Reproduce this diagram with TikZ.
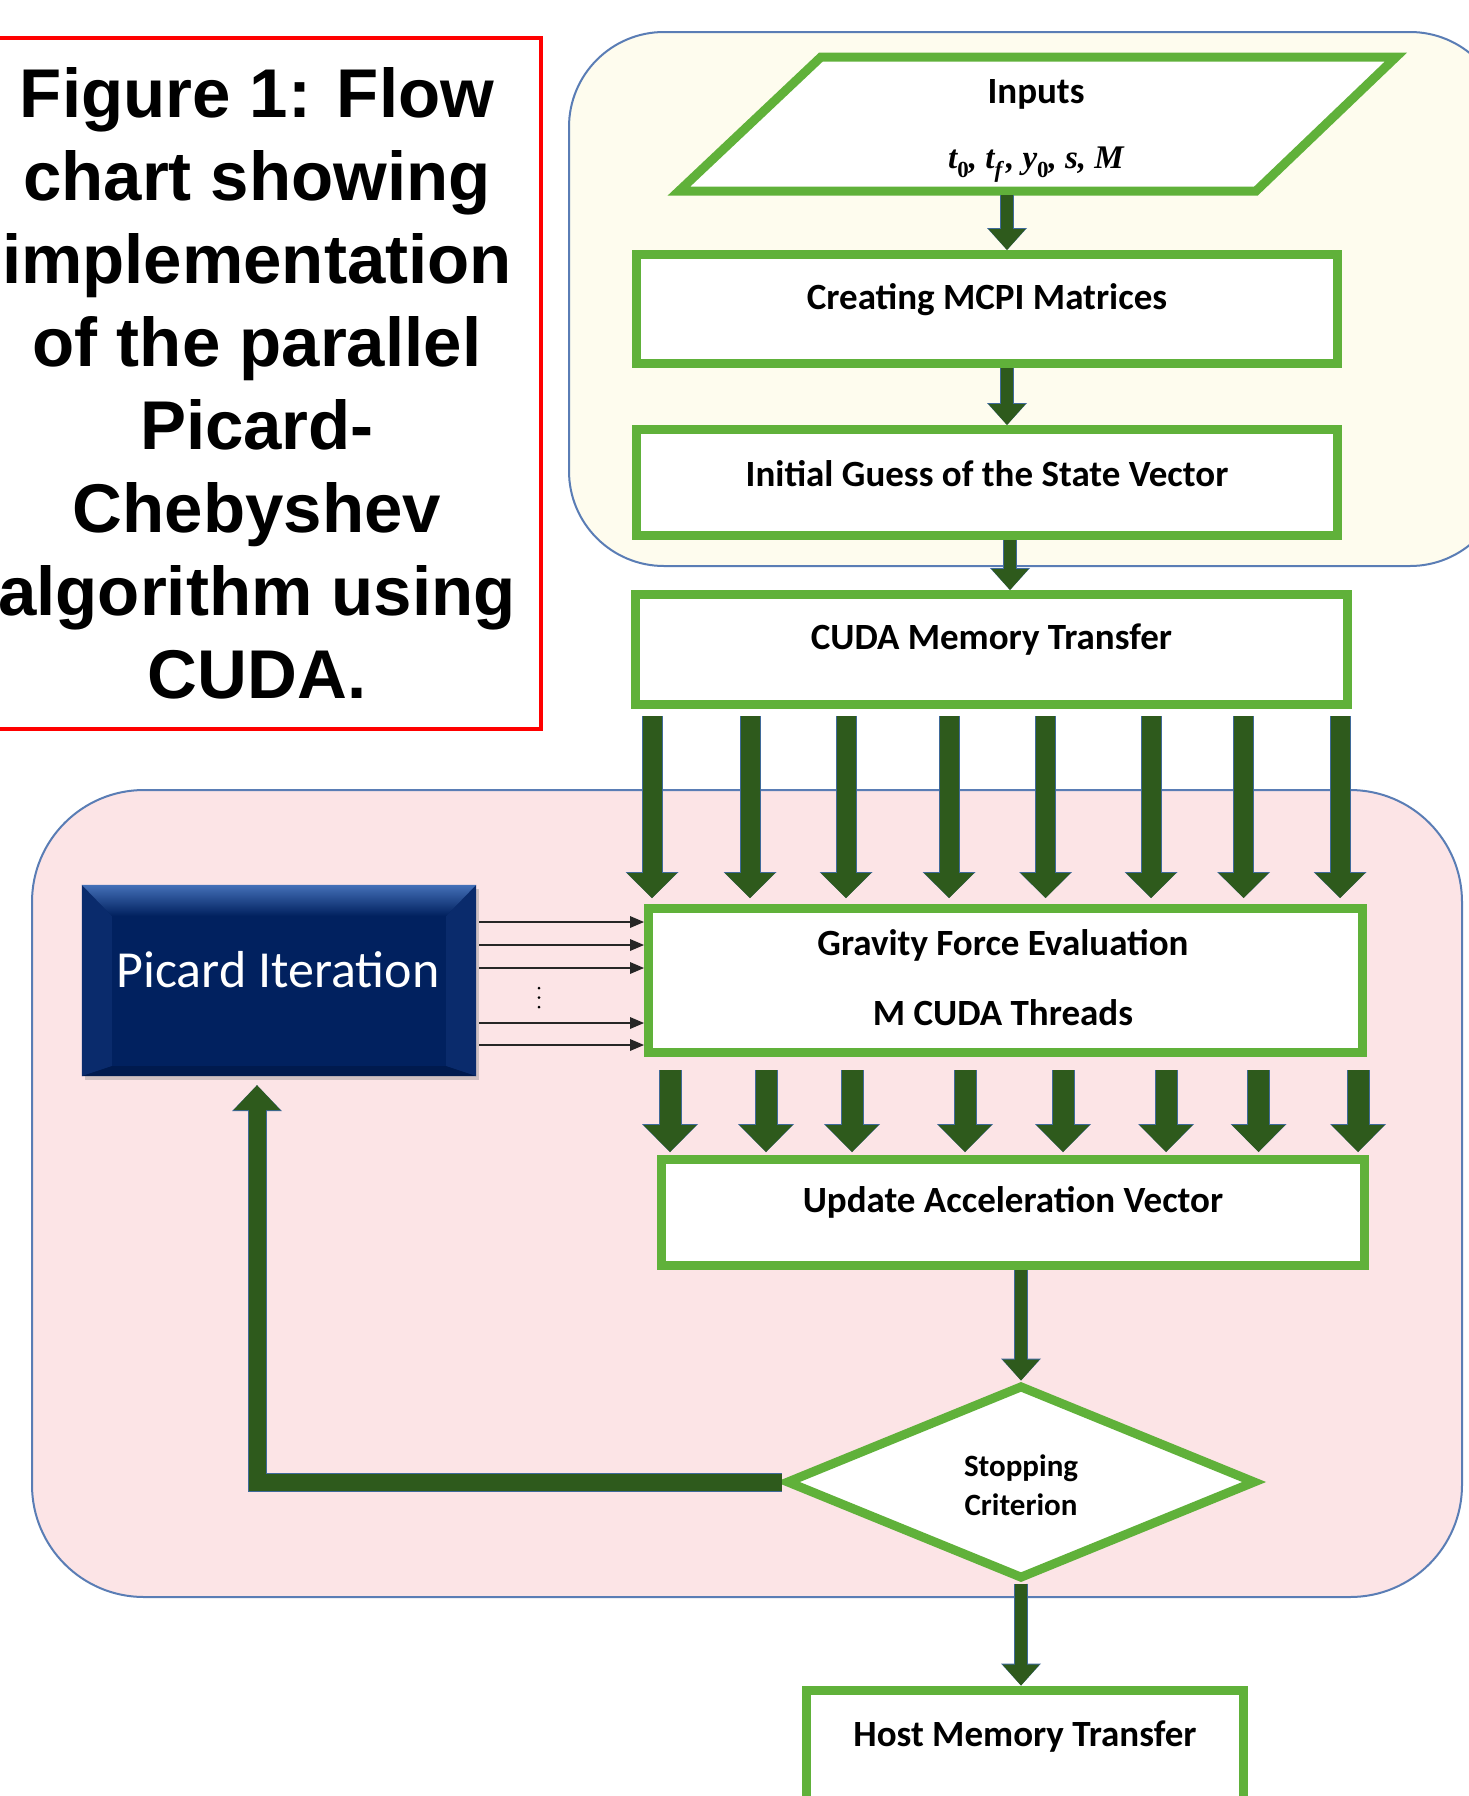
\documentclass[tikz,border=0pt]{standalone}
\usepackage{fontspec}
\setmainfont{Carlito}
\newfontfamily\capfont{Liberation Sans}
\newfontfamily\mathlike{Liberation Serif}
\usetikzlibrary{arrows.meta,shadows,calc,shapes.geometric}
\definecolor{grn}{HTML}{60B13A}
\definecolor{dgrn}{HTML}{2E5A1C}
\definecolor{pinkfill}{HTML}{FCE4E6}
\definecolor{yellfill}{HTML}{FEFCEE}
\definecolor{regline}{HTML}{5A7DB5}
\definecolor{arrline}{HTML}{3F6A9A}
\definecolor{navy}{HTML}{01215F}
\definecolor{navyL}{HTML}{0A2B6C}
\definecolor{navyD}{HTML}{001A4E}
\definecolor{bevel}{HTML}{4470B8}
\newcommand\subx[1]{\raisebox{-0.28em}{\fontsize{23}{26}\selectfont #1}}
\begin{document}
\begin{tikzpicture}[x=1pt,y=-1pt,line join=miter,
  gbox/.style={draw=grn,line width=9pt,fill=white,inner sep=0pt},
  lbl/.style={font=\fontsize{37}{44}\selectfont\bfseries,text=black,inner sep=0pt},
  lblsmall/.style={font=\fontsize{31}{39}\selectfont\bfseries,text=black,inner sep=0pt,align=center},
  captxt/.style={font=\capfont\bfseries\fontsize{69}{83}\selectfont,anchor=base,inner sep=0pt},
  region/.style={draw=regline,line width=2pt,rounded corners=#1},
  arrS/.style={draw=dgrn,line width=12pt,-{Triangle[width=37pt,length=21pt,line width=0pt]},
    preaction={draw=arrline,line width=14pt,-{Triangle[width=40pt,length=22pt,line width=0pt]}}},
  arrB/.style={draw=dgrn,line width=19pt,-{Triangle[width=50pt,length=25pt,line width=0pt]},
    preaction={draw=arrline,line width=21pt,-{Triangle[width=53pt,length=26pt,line width=0pt]}}},
  arrL/.style={draw=dgrn,line width=21pt,-{Triangle[width=53pt,length=27pt,line width=0pt]},
    preaction={draw=arrline,line width=23pt,-{Triangle[width=56pt,length=28pt,line width=0pt]}}},
  arrF/.style={draw=dgrn,line width=17pt,-{Triangle[width=47pt,length=25pt,line width=0pt]},
    preaction={draw=arrline,line width=19pt,-{Triangle[width=50pt,length=26pt,line width=0pt]}}},
  thinarr/.style={draw=black!85,line width=2pt,-{Triangle[width=12pt,length=14pt,line width=0pt]}}]
\useasboundingbox (0,0) rectangle (1468,1796);
\fill[white] (0,0) rectangle (1468,1796);

% background regions
\draw[region=95pt,fill=yellfill] (569,32) rectangle (1505,566);
\draw[region=112pt,fill=pinkfill] (32,790) rectangle (1462,1597);

% caption box
\draw[draw=red,line width=4.5pt] (-10,38) rectangle (541,729);
\node[captxt] (cap1) at (257,117) {Figure 1: Flow};
\node[captxt] (cap2) at (257,200) {chart showing};
\node[captxt] (cap3) at (257,283) {implementation};
\node[captxt] (cap4) at (257,366) {of the parallel};
\node[captxt] (cap5) at (257,449) {Picard-};
\node[captxt] (cap6) at (257,532) {Chebyshev};
\node[captxt] (cap7) at (257,615) {algorithm using};
\node[captxt] (cap8) at (257,698) {CUDA.};

% inputs parallelogram
\draw[draw=grn,line width=9pt,fill=white] (821,57) -- (1396,57) -- (1256,191) -- (679,191) -- cycle;
\node[lbl] (inpT) at (1036,94) {Inputs};
\node[inner sep=0pt,font=\mathlike\bfseries\itshape\fontsize{33}{40}\selectfont] (inpM) at (1036,165)
  {t\subx{\upshape 0}, t\subx{f\,}, y\subx{\upshape 0}, s, M};
\coordinate (inpb) at (1007,195);

% boxes
\node[gbox,minimum width=701pt,minimum height=109pt,
  label={[lbl,name=creatT,yshift=9pt]center:Creating MCPI Matrices}] (creat) at (987,309) {};
\node[gbox,minimum width=701pt,minimum height=106pt,
  label={[lbl,name=initT,yshift=9pt]center:Initial Guess of the State Vector}] (init) at (987,482.5) {};
\node[gbox,minimum width=712pt,minimum height=110pt,
  label={[lbl,name=cudaT,yshift=10pt]center:CUDA Memory Transfer}] (cuda) at (991.5,649.5) {};
\node[gbox,minimum width=714pt,minimum height=144pt] (grav) at (1005.5,980.5) {};
\node[lbl] (gravT1) at (1003,945) {Gravity Force Evaluation};
\node[lbl] (gravT2) at (1003,1013) {M CUDA Threads};
\node[gbox,minimum width=703pt,minimum height=106pt,
  label={[lbl,name=updT,yshift=10pt]center:Update Acceleration Vector}] (upd) at (1013,1212.5) {};
\node[diamond,draw=grn,line width=9pt,fill=white,inner sep=0pt,
  minimum width=470pt,minimum height=194pt,
  label={[lblsmall,name=stopT,yshift=-3pt]center:Stopping\\Criterion}] (stop) at (1021,1482) {};
\node[gbox,minimum width=437pt,minimum height=140pt,
  label={[lbl,name=hostT,yshift=23pt]center:Host Memory Transfer}] (host) at (1025,1760) {};

% Picard iteration block
\node[fill=navy,inner sep=0pt,minimum width=394pt,minimum height=191pt,
  drop shadow={shadow xshift=3pt,shadow yshift=-4pt,opacity=0.35}] (pic) at (279,980.5) {};
\fill[navyL] (pic.north west) -- ++(30,31) -- ($(pic.south west)+(30,-10)$) -- (pic.south west) -- cycle;
\fill[navyL] (pic.north east) -- ++(-30,31) -- ($(pic.south east)+(-30,-10)$) -- (pic.south east) -- cycle;
\fill[navyD] (pic.south west) -- ++(30,-10) -- ($(pic.south east)+(-30,-10)$) -- (pic.south east) -- cycle;
\shade[top color=bevel,bottom color=navy] (pic.north west) -- (pic.north east) -- ++(-30,31) -- ($(pic.north west)+(30,31)$) -- cycle;
\node[font=\fontsize{52}{62}\selectfont,text=white,inner sep=0pt] (picT) at (278,970) {Picard Iteration};

% small arrows in the top part
\coordinate (ax) at (1007,0);
\coordinate (ax2) at (1010,0);
\draw[arrS] (inpb) -- (ax |- creat.north);
\draw[arrS] (ax |- creat.south) -- (ax |- init.north);
\draw[arrS] (ax2 |- init.south) -- (ax2 |- cuda.north);

% eight arrows CUDA -> gravity
\foreach \xx [count=\i] in {652,750,846,949,1045.5,1151,1243.6,1340}{
  \coordinate (u\i) at (\xx,0);
  \draw[arrB,shorten <=7pt,shorten >=6pt] (u\i |- cuda.south) -- (u\i |- grav.north);
}
% eight arrows gravity -> update
\foreach \xx [count=\i] in {670,766,852,965,1063,1166,1258.5,1358}{
  \coordinate (l\i) at (\xx,0);
  \draw[arrL,shorten <=13pt,shorten >=3pt] (l\i |- grav.south) -- (l\i |- upd.north);
}

% thin arrows Picard -> gravity
\foreach \yy [count=\i] in {922,945,968,1023,1045}{
  \coordinate (t\i) at (0,\yy);
  \draw[thinarr,shorten <=3pt] (pic.east |- t\i) -- (grav.west |- t\i);
}
\fill[black] (539,988) circle (1.5pt) (539,997.5) circle (1.5pt) (539,1007) circle (1.5pt);

% update -> stop, stop -> host
\draw[arrS] (stop.north |- upd.south) -- (stop.north);
\draw[arrS] (stop.south) -- (stop.south |- host.north);

% feedback
\coordinate (fb) at (257,1482);
\draw[arrF,shorten >=9pt] (stop.west) -- (fb) -- (fb |- pic.south);
\end{tikzpicture}
\end{document}
